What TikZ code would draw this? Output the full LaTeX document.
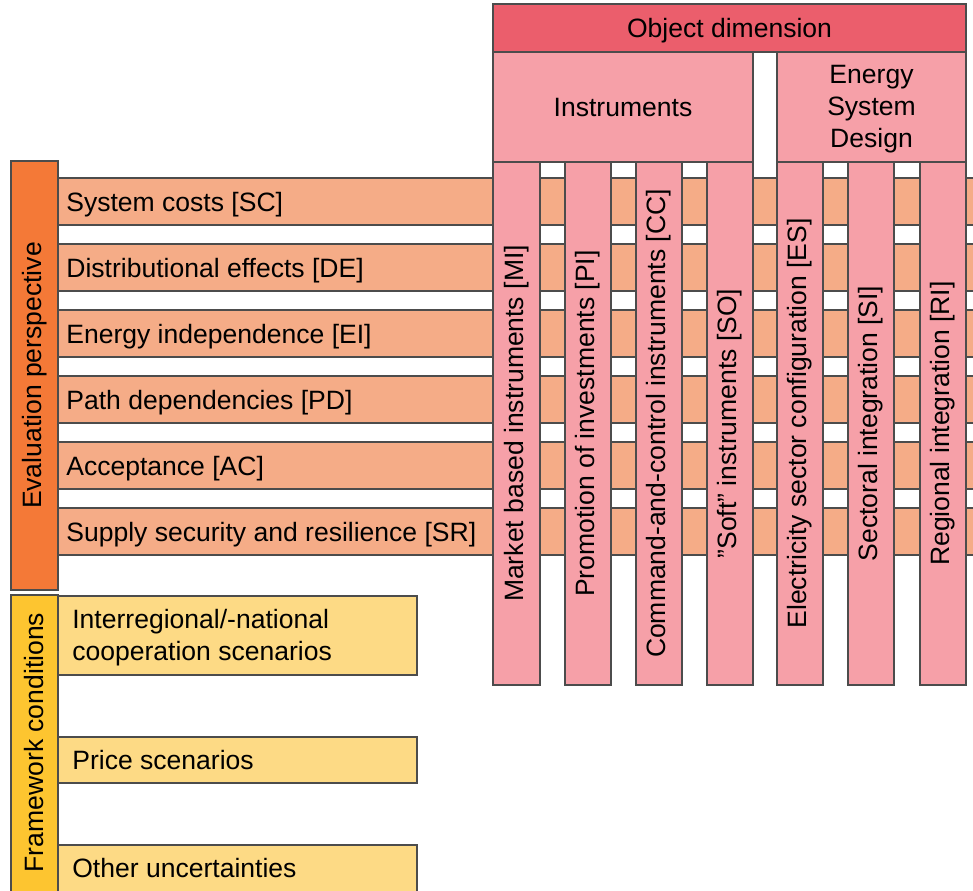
\documentclass[tikz,border=0pt]{standalone}
\usepackage{fontspec}
\setmainfont{Liberation Sans}
\definecolor{objred}{RGB}{235,94,108}
\definecolor{instpink}{RGB}{246,160,168}
\definecolor{evalsalmon}{RGB}{245,172,135}
\definecolor{evalorange}{RGB}{244,121,55}
\definecolor{framegold}{RGB}{253,197,48}
\definecolor{frameyellow}{RGB}{253,218,133}
\tikzset{
  edge/.style={draw=black!70, line width=0.6pt},
  objbox/.style={edge, fill=objred},
  instbox/.style={edge, fill=instpink},
  evalrow/.style={edge, fill=evalsalmon},
  evalbar/.style={edge, fill=evalorange},
  framebar/.style={edge, fill=framegold},
  framerow/.style={edge, fill=frameyellow},
  boxlabel/.style={font=\fontsize{15.1}{18.2}\selectfont, inner sep=0pt},
  rowlabel/.style={boxlabel, anchor=base west, xshift=0.16cm},
  framelabel/.style={boxlabel, anchor=base west, xshift=0.28cm, align=left},
  collabel/.style={boxlabel, rotate=90},
}

\begin{document}
\begin{tikzpicture}[x=0.02cm, y=-0.02cm]
\useasboundingbox (0,0) rectangle (973,890);
\clip (0,0) rectangle (973,890);
% evaluation rows
\draw[evalrow] (58,178) rectangle (985,225);
\draw[evalrow] (58,244) rectangle (985,291);
\draw[evalrow] (58,310) rectangle (985,357);
\draw[evalrow] (58,376) rectangle (985,423);
\draw[evalrow] (58,442) rectangle (985,489);
\draw[evalrow] (58,508) rectangle (985,555);
\node[rowlabel] (sc) at (58,211) {System costs [SC]};
\node[rowlabel] (de) at (58,277) {Distributional effects [DE]};
\node[rowlabel] (ei) at (58,343) {Energy independence [EI]};
\node[rowlabel] (pd) at (58,409) {Path dependencies [PD]};
\node[rowlabel] (ac) at (58,475) {Acceptance [AC]};
\node[rowlabel] (sr) at (58,541) {Supply security and resilience [SR]};
\draw[evalbar] (11,161) rectangle (58,590);
\node[collabel] (evalp) at (34.5,375.5) {Evaluation perspective};
% framework conditions
\draw[framerow] (58,596) rectangle (417,675);
\draw[framerow] (58,737) rectangle (417,783);
\draw[framerow] (58,845) rectangle (417,898);
\node[framelabel] (coop) at (58,660) {Interregional/-national\\cooperation scenarios};
\node[framelabel] (price) at (58,769) {Price scenarios};
\node[framelabel] (other) at (58,877) {Other uncertainties};
\draw[framebar] (11,595) rectangle (58,898);
\node[collabel] (framec) at (34.5,742.5) {Framework conditions};
% object dimension
\draw[objbox] (493,4) rectangle (966,52);
\node[boxlabel, anchor=base] (objd) at (729.5,37) {Object dimension};
\draw[instbox] (493,52) rectangle (753,162);
\node[boxlabel] (instr) at (623,107) {Instruments};
\draw[instbox] (777,52) rectangle (966,162);
\node[boxlabel, align=center] (esd) at (871.5,109) {Energy\\System\\Design};
\draw[instbox] (493,162) rectangle (540,685);
\draw[instbox] (565,162) rectangle (611,685);
\draw[instbox] (636,162) rectangle (682,685);
\draw[instbox] (707,162) rectangle (753,685);
\draw[instbox] (777,162) rectangle (823,685);
\draw[instbox] (848,162) rectangle (894,685);
\draw[instbox] (920,162) rectangle (966,685);
\node[collabel] (mi) at (516.5,423.5) {Market based instruments [MI]};
\node[collabel] (pi) at (588,423.5) {Promotion of investments [PI]};
\node[collabel] (cc) at (659,423.5) {Command-and-control instruments [CC]};
\node[collabel] (so) at (730,423.5) {''Soft'' instruments [SO]};
\node[collabel] (es) at (800,423.5) {Electricity sector configuration [ES]};
\node[collabel] (si) at (871,423.5) {Sectoral integration [SI]};
\node[collabel] (ri) at (943,423.5) {Regional integration [RI]};
\end{tikzpicture}
\end{document}
